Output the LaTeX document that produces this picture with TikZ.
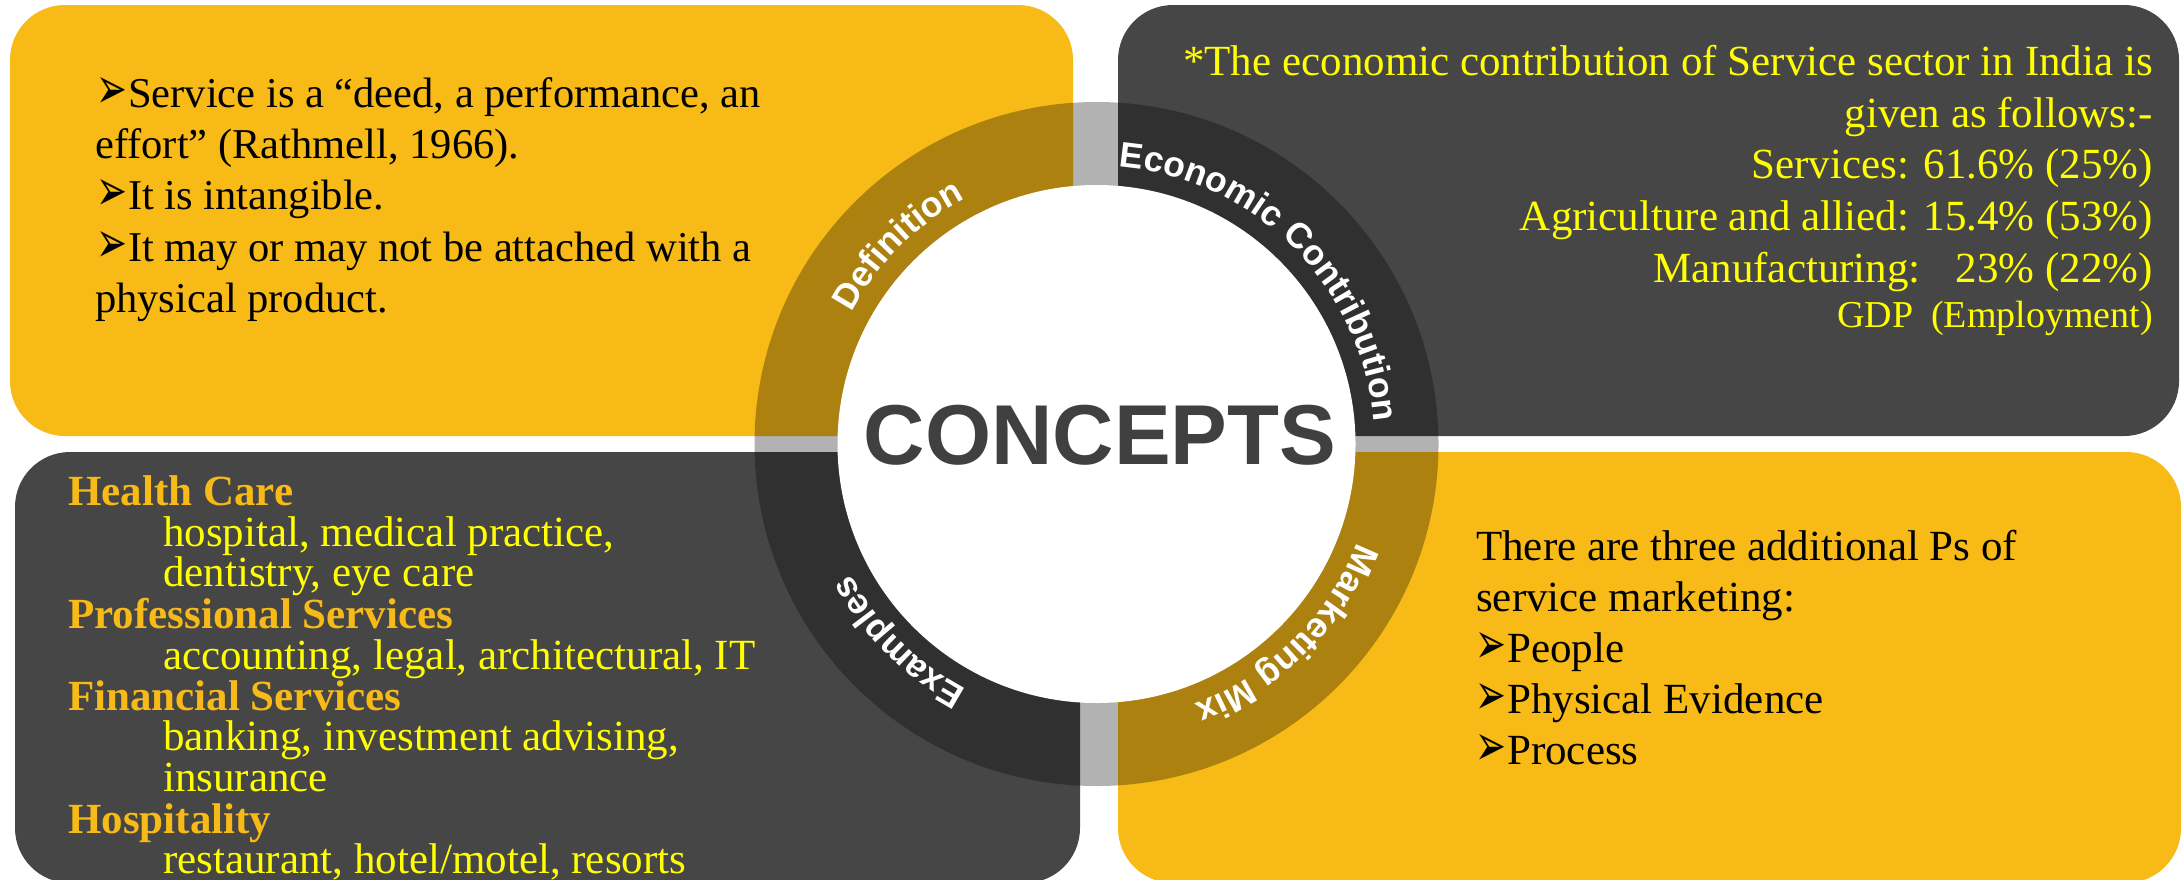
\documentclass[tikz,border=0pt]{standalone}
\usepackage{fontspec}
\setmainfont{Liberation Serif}
\newfontfamily\arialfont{Liberation Sans}
\newfontfamily\dingfont{DejaVu Sans}
\usetikzlibrary{decorations.text}
\definecolor{gold}{HTML}{F7BA17}
\definecolor{darkbox}{HTML}{464646}
\definecolor{txtyellow}{HTML}{FFFF00}
\definecolor{concept}{HTML}{404040}
\newcommand{\bodyfont}{\fontsize{43}{50}\selectfont}
\newcommand{\tlfont}{\fontsize{42.5}{50}\selectfont}
\newcommand{\smallbody}{\fontsize{38}{44}\selectfont}
\newcommand{\ringfont}{\fontsize{35.5}{40}\selectfont\arialfont\bfseries}
\newcommand{\arrbullet}{\makebox[32pt][l]{\raisebox{-1pt}{\resizebox{31pt}{31pt}{\dingfont ➢}}}}
\tikzset{
  panel/.style={rounded corners=55pt},
  tl/.style={anchor=base west, inner sep=0pt, font=\bodyfont, text=black},
  tr/.style={anchor=base east, inner sep=0pt, font=\bodyfont, text=txtyellow},
  head/.style={anchor=base west, inner sep=0pt, font=\bodyfont\bfseries, text=gold},
  item/.style={anchor=base west, inner sep=0pt, font=\bodyfont, text=txtyellow},
}
\begin{document}
\begin{tikzpicture}[x=1pt,y=1pt]
\useasboundingbox (0,0) rectangle (2183,-879);
\clip (0,0) rectangle (2183,-879);
\fill[white] (0,0) rectangle (2183,-879);
% panels
\fill[panel, gold] (10,-5) rectangle (1073,-436);
\fill[panel, darkbox] (1118,-5) rectangle (2179,-436);
\fill[panel, darkbox] (15,-452) rectangle (1080,-883);
\fill[panel, gold] (1118,-452) rectangle (2181,-883);
% ring
\coordinate (c) at (1096.5,-444);
\fill[black, opacity=0.3] (c) circle[radius=342];
\fill[white] (c) circle[radius=259];
\node[anchor=base, inner sep=0pt, font=\fontsize{85}{90}\selectfont\arialfont\bfseries, text=concept] (concepts) at (1100,-464) {CONCEPTS};
% ring labels
\path[shift={(1096.5,-444)}, decorate, decoration={text along path, text align=center, text={|\ringfont\color{white}|Definition}}] (195:278) arc[start angle=195, end angle=75, radius=278];
\path[shift={(1096.5,-444)}, decorate, decoration={text along path, text align=center, text={|\ringfont\color{white}|Economic Contribution}}] (105:278) arc[start angle=105, end angle=-15, radius=278];
\path[shift={(1096.5,-444)}, decorate, decoration={text along path, text align=center, text={|\ringfont\color{white}|Marketing Mix}}] (15:278) arc[start angle=15, end angle=-105, radius=278];
\path[shift={(1096.5,-444)}, decorate, decoration={text along path, text align=center, text={|\ringfont\color{white}|Examples}}] (285:278) arc[start angle=285, end angle=165, radius=278];
% definition text
\node[tl, font=\tlfont] (d1) at (96,-107) {\arrbullet Service is a “deed, a performance, an};
\node[tl, font=\tlfont] (d2) at (95,-158) {effort” (Rathmell, 1966).};
\node[tl, font=\tlfont] (d3) at (96,-209.5) {\arrbullet It is intangible.};
\node[tl, font=\tlfont] (d4) at (96,-261) {\arrbullet It may or may not be attached with a};
\node[tl, font=\tlfont] (d5) at (95,-312) {physical product.};
% economic contribution text
\node[tr] (e1) at (2153,-75) {*The economic contribution of Service sector in India is};
\node[tr] (e2) at (2153,-127) {given as follows:-};
\node[tr] (e3) at (2153,-178) {Services: 61.6\% (25\%)};
\node[tr] (e4) at (2153,-230) {Agriculture and allied: 15.4\% (53\%)};
\node[tr] (e5) at (2153,-282) {Manufacturing:\hspace{35pt}23\% (22\%)};
\node[tr, font=\smallbody] (e6) at (2153,-327) {GDP\hspace{18pt}(Employment)};
% examples text
\node[head] (x1) at (68,-505) {Health Care};
\node[item] (x2) at (163,-546.7) {hospital, medical practice,};
\node[item] (x3) at (163,-586.7) {dentistry, eye care};
\node[head] (x4) at (68,-628) {Professional Services};
\node[item] (x5) at (163,-669) {accounting, legal, architectural, IT};
\node[head] (x6) at (68,-710) {Financial Services};
\node[item] (x7) at (163,-750.7) {banking, investment advising,};
\node[item] (x8) at (163,-791.7) {insurance};
\node[head] (x9) at (68,-833) {Hospitality};
\node[item] (x10) at (163,-873) {restaurant, hotel/motel, resorts};
% marketing mix text
\node[tl] (m1) at (1476,-560) {There are three additional Ps of};
\node[tl] (m2) at (1476,-611.7) {service marketing:};
\node[tl] (m3) at (1475,-662) {\arrbullet People};
\node[tl] (m4) at (1475,-713) {\arrbullet Physical Evidence};
\node[tl] (m5) at (1475,-764) {\arrbullet Process};
\end{tikzpicture}
\end{document}
